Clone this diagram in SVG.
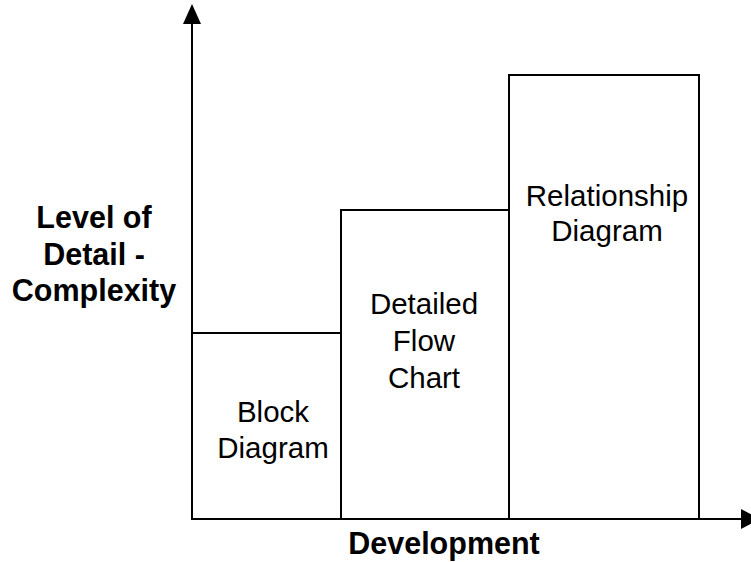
<svg xmlns="http://www.w3.org/2000/svg" width="751" height="562" viewBox="0 0 751 562">
  <style>
    .box { fill: #fff; stroke: #000; stroke-width: 2; }
    .axis { stroke: #000; stroke-width: 2; fill: none; }
    .head { fill: #000; }
    .lbl { font-family: "Liberation Sans", Arial, sans-serif; font-size: 29.5px; fill: #000; text-anchor: middle; }
    .bold { font-family: "Liberation Sans", Arial, sans-serif; font-size: 30.5px; font-weight: bold; fill: #000; text-anchor: middle; }
  </style>
  <rect width="751" height="562" fill="#fff"/>

  <g id="block-diagram">
    <rect class="box" x="192" y="333" width="149" height="186"/>
    <text class="lbl" x="273" y="422">Block</text>
    <text class="lbl" x="273" y="458">Diagram</text>
  </g>

  <g id="detailed-flow-chart">
    <rect class="box" x="341" y="210" width="168" height="309"/>
    <text class="lbl" x="424" y="314">Detailed</text>
    <text class="lbl" x="424" y="351">Flow</text>
    <text class="lbl" x="424" y="388">Chart</text>
  </g>

  <g id="relationship-diagram">
    <rect class="box" x="509" y="75" width="190" height="444"/>
    <text class="lbl" x="607" y="206">Relationship</text>
    <text class="lbl" x="607" y="241">Diagram</text>
  </g>

  <g id="connectors">
    <line class="axis" x1="192" y1="520" x2="192" y2="18"/>
    <polygon class="head" points="192,4 183,24 201,24"/>
    <line class="axis" x1="191" y1="519" x2="745" y2="519"/>
    <polygon class="head" points="760,519 741,509 741,529"/>
  </g>

  <g id="axis-labels">
    <text class="bold" x="94" y="228">Level of</text>
    <text class="bold" x="94" y="265">Detail -</text>
    <text class="bold" x="94" y="301">Complexity</text>
    <text class="bold" x="444" y="554">Development</text>
  </g>
</svg>
